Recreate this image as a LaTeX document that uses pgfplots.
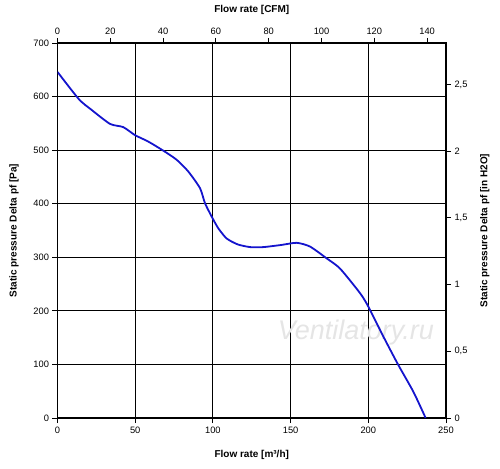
\documentclass[border=0pt]{standalone}
\usepackage{pgfplots}
\pgfplotsset{compat=1.18}
\usepackage{fontspec}
\setmainfont{Liberation Sans}
\definecolor{curve}{RGB}{20,20,205}
\begin{document}
\begin{tikzpicture}
\begin{axis}[
  scale only axis, width=388.5pt, height=375pt,
  xmin=0, xmax=250, ymin=0, ymax=700,
  xtick={0,50,...,250}, ytick={0,100,...,700},
  grid=major, grid style={black, line width=1pt},
  axis line style={black, line width=1.4pt},
  tick align=outside, xtick pos=left, ytick pos=left,
  major tick length=5pt, tick style={black, line width=1pt},
  ticklabel style={font=\fontsize{9.3}{10}\selectfont},
  /pgf/number format/assume math mode=true,
  xlabel={\textbf{Flow rate [m³/h]}},
  ylabel={\textbf{Static pressure Delta pf [Pa]}},
  xlabel style={at={(axis description cs:0.5,-0.0987)}, anchor=center, font=\fontsize{10}{12}\selectfont},
  ylabel style={at={(axis description cs:-0.112,0.5)}, anchor=center, rotate=0, font=\fontsize{10}{12}\selectfont},
]
\coordinate (sw) at (rel axis cs:0,0);
\coordinate (ne) at (rel axis cs:1,1);
\node[font=\fontsize{27}{30}\selectfont\itshape, text=black!10, draw=none] at (axis cs:192,159) {Ventilatory.ru};
\addplot[curve, line width=1.8pt, smooth, tension=0.4] coordinates {
(0,646) (13.8,595) (22,575) (33.8,549) (42.3,543) (49.9,528) (58.4,516)
(68.1,499) (76.7,482) (84.2,460) (91.7,429) (94.9,401) (99.2,376)
(103.5,354) (108.9,335) (116,324) (124,319) (132.4,319) (144,323)
(153.9,327) (162.5,320) (173.2,298) (181.8,279) (194.7,233) (200,208)
(209.7,152) (219.3,99) (229,49) (236.9,0)
};
\end{axis}
\begin{axis}[
  scale only axis, width=388.5pt, height=375pt,
  xmin=0, xmax=147.15, ymin=0, ymax=2.8102,
  xtick={0,20,...,140}, ytick={0,0.5,1,1.5,2,2.5},
  axis line style={draw=none},
  tick align=outside, xtick pos=right, ytick pos=right,
  major tick length=5pt, tick style={black, line width=1pt},
  ticklabel style={font=\fontsize{9.3}{10}\selectfont},
  /pgf/number format/assume math mode=true,
  yticklabel style={/pgf/number format/use comma, /pgf/number format/fixed},
  xlabel={\textbf{Flow rate [CFM]}},
  ylabel={\textbf{Static pressure Delta pf [in H2O]}},
  xlabel style={at={(axis description cs:0.5,1.088)}, anchor=center, font=\fontsize{10}{12}\selectfont},
  ylabel style={at={(axis description cs:1.100,0.5)}, anchor=center, rotate=0, font=\fontsize{10}{12}\selectfont},
]
\end{axis}
\pgfresetboundingbox
\path[use as bounding box] ([shift={(-57.5pt,-50pt)}]sw) rectangle ([shift={(54pt,43pt)}]ne);
\end{tikzpicture}
\end{document}
